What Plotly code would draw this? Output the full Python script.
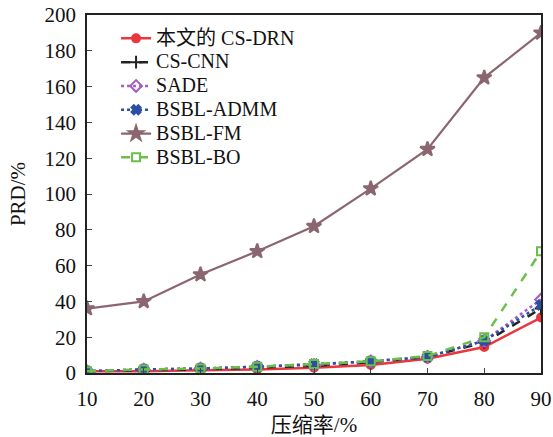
import plotly.graph_objects as go

rates = [10, 20, 30, 40, 50, 60, 70, 80, 90]
cs_drn = [1, 1, 1.5, 2, 3, 4.5, 8, 14.5, 31]
cs_cnn = [1, 1.5, 2, 3, 4, 6, 9, 17, 36]
sade = [1, 2, 2.5, 3.5, 4.5, 6.5, 9, 18, 41]
bsbl_admm = [1, 2, 2.5, 3.5, 5, 6.5, 9, 18, 38]
bsbl_fm = [36, 40, 55, 68, 82, 103, 125, 165, 190]
bsbl_bo = [1, 2, 2.5, 3.5, 5, 6.5, 9.5, 20, 68]

names = ["本文的 CS-DRN", "CS-CNN", "SADE", "BSBL-ADMM", "BSBL-FM", "BSBL-BO"]
ticks_y = [0, 20, 40, 60, 80, 100, 120, 140, 160, 180, 200]

FONT = "Liberation Serif, Times New Roman, Noto Sans CJK SC, serif"

styles = [
    dict(color="#e8383d", dash="solid", symbol="circle", size=8, width=2.5),
    dict(color="#222222", dash="dash", symbol="cross-thin", size=9, width=2.5),
    dict(color="#a45ec0", dash="dot", symbol="diamond-open", size=9, width=2.5),
    dict(color="#2c4fa6", dash="dot", symbol="x", size=8, width=2.5),
    dict(color="#8b6670", dash="solid", symbol="star", size=11, width=2.2),
    dict(color="#6abf4b", dash="dash", symbol="square-open", size=8, width=2.5),
]
series = [cs_drn, cs_cnn, sade, bsbl_admm, bsbl_fm, bsbl_bo]

fig = go.Figure()
for name, ys, st in zip(names, series, styles):
    fig.add_trace(go.Scatter(
        x=rates, y=ys, mode="lines+markers",
        name='<span style="font-size:20px">' + name + '</span>',
        line=dict(color=st["color"], dash=st["dash"], width=st["width"]),
        marker=dict(symbol=st["symbol"], size=st["size"], color=st["color"],
                    line=dict(color=st["color"], width=2)),
    ))

fig.update_layout(
    width=553, height=437,
    margin=dict(l=87, r=12, t=15, b=64),
    paper_bgcolor="white", plot_bgcolor="white",
    font=dict(family=FONT, size=21, color="#111"),
    showlegend=True,
    legend=dict(x=0.064, y=0.982, xanchor="left", yanchor="top",
                bgcolor="rgba(0,0,0,0)", font=dict(size=16, family=FONT),
                itemwidth=30, tracegroupgap=0),
    xaxis=dict(range=[10, 90], tickvals=rates, ticks="inside", ticklen=5,
               showline=True, linecolor="#222", linewidth=1.5, mirror=True,
               showgrid=False, zeroline=False, ticklabelstandoff=6,
               ticklabeloverflow="allow", automargin=False,
               title=dict(text="压缩率/%", font=dict(size=21, family=FONT), standoff=12)),
    yaxis=dict(range=[0, 200], tickvals=ticks_y, ticks="inside", ticklen=5,
               showline=True, linecolor="#222", linewidth=1.5, mirror=True,
               showgrid=False, zeroline=False, ticklabelstandoff=5,
               ticklabeloverflow="allow", automargin=False,
               title=dict(text="PRD/%", font=dict(size=21, family=FONT), standoff=13)),
)

fig.write_html("out.html", config={"displayModeBar": False},
               post_script="document.body.style.margin='0';")
